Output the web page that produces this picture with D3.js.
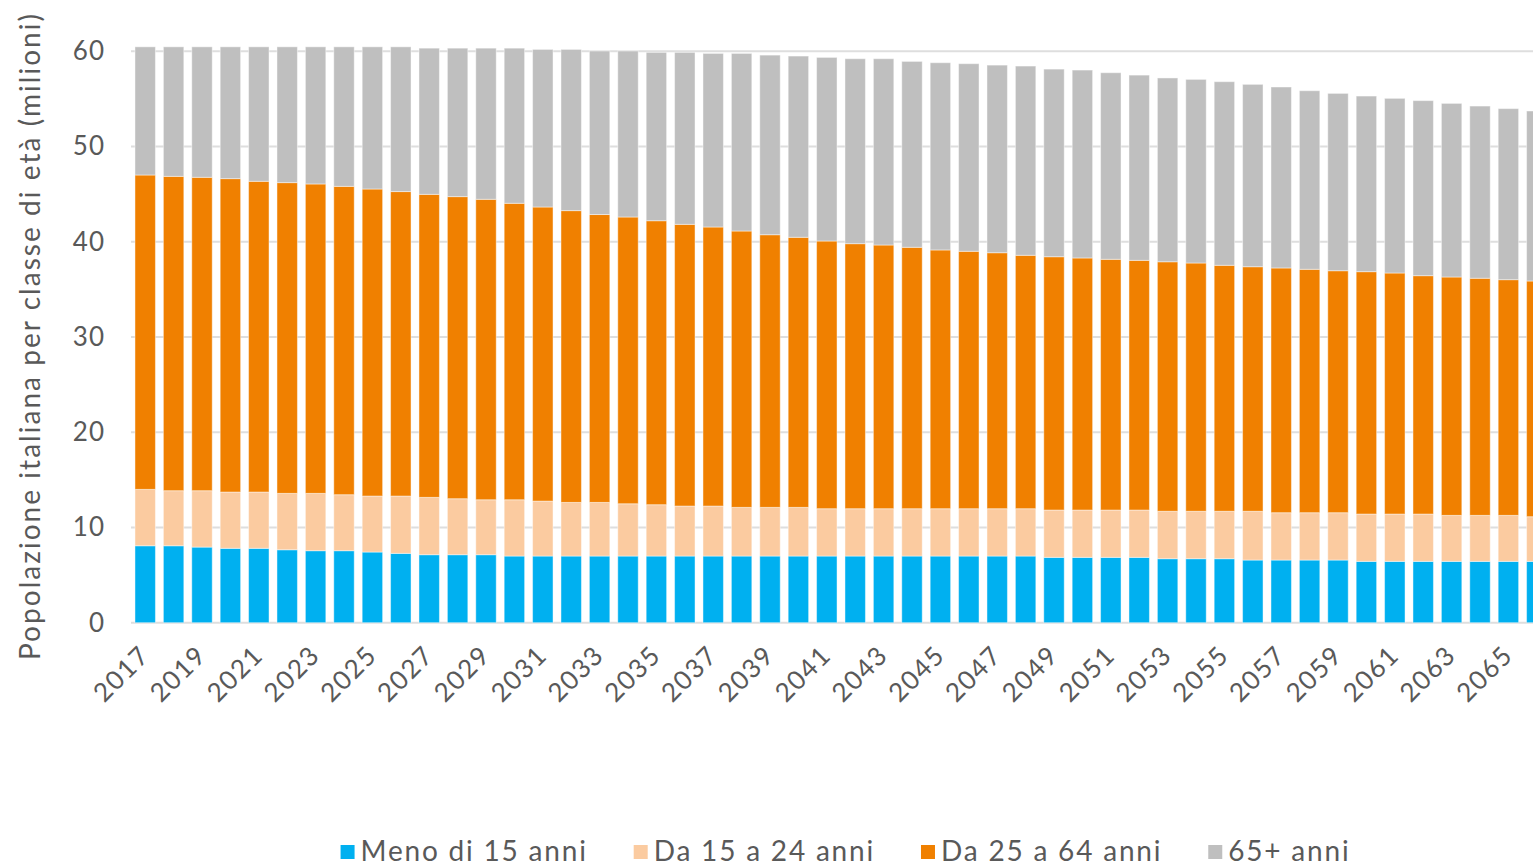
<!DOCTYPE html>
<meta charset="utf-8">
<style>
    body {
        margin: 0;
        background: #fff;
        overflow: hidden;
    }

    svg text {
        font-family: Lato, "Open Sans", sans-serif;
        fill: #595959;
    }

    .grid line {
        stroke: #dedede;
        stroke-width: 2px;
    }

    .bars rect {
        stroke: #fff;
        stroke-opacity: 0.45;
        stroke-width: 1px;
    }
</style>

<body>
<script src="https://cdn.jsdelivr.net/npm/d3@7"></script>
<script>

    // Years on the x axis (the last one is cut by the right edge)
    var years = d3.range(2017, 2067);

    // Population by age class, millions
    var meno15 = [8.08, 8.08, 7.94, 7.81, 7.81, 7.66, 7.56, 7.56, 7.42, 7.28,
                  7.14, 7.14, 7.14, 7.00, 7.00, 7.00, 7.00, 7.00, 7.00, 7.00,
                  7.00, 7.00, 7.00, 7.00, 7.00, 7.00, 7.00, 7.00, 7.00, 7.00,
                  7.00, 7.00, 6.86, 6.86, 6.86, 6.86, 6.72, 6.72, 6.72, 6.58,
                  6.58, 6.58, 6.58, 6.44, 6.44, 6.44, 6.44, 6.44, 6.44, 6.44];

    var da15a24 = [5.92, 5.78, 5.92, 5.91, 5.91, 5.92, 6.02, 5.88, 5.88, 6.02,
                   6.02, 5.88, 5.77, 5.91, 5.77, 5.63, 5.63, 5.49, 5.39, 5.25,
                   5.25, 5.11, 5.11, 5.11, 4.97, 4.97, 4.97, 4.97, 4.97, 4.97,
                   4.97, 4.97, 4.97, 4.97, 4.97, 4.97, 4.98, 4.98, 4.98, 5.12,
                   4.97, 4.97, 4.97, 4.97, 4.97, 4.97, 4.83, 4.83, 4.83, 4.69];

    var da25a64 = [33.01, 33.01, 32.91, 32.91, 32.63, 32.63, 32.49, 32.38, 32.24, 31.97,
                   31.82, 31.72, 31.55, 31.13, 30.88, 30.64, 30.23, 30.11, 29.82, 29.58,
                   29.30, 29.02, 28.63, 28.36, 28.11, 27.83, 27.69, 27.45, 27.17, 27.03,
                   26.88, 26.61, 26.60, 26.47, 26.33, 26.22, 26.20, 26.07, 25.83, 25.68,
                   25.70, 25.56, 25.41, 25.45, 25.31, 25.03, 25.03, 24.90, 24.75, 24.75];

    var over65 = [13.46, 13.60, 13.70, 13.84, 14.12, 14.26, 14.40, 14.65, 14.93, 15.20,
                  15.35, 15.59, 15.87, 16.29, 16.55, 16.93, 17.17, 17.43, 17.68, 18.06,
                  18.23, 18.65, 18.86, 19.03, 19.28, 19.42, 19.56, 19.52, 19.66, 19.70,
                  19.70, 19.87, 19.70, 19.73, 19.59, 19.45, 19.30, 19.28, 19.28, 19.15,
                  19.00, 18.75, 18.62, 18.44, 18.34, 18.38, 18.23, 18.08, 17.96, 17.85];

    var seriesNames = ["Meno di 15 anni", "Da 15 a 24 anni", "Da 25 a 64 anni", "65+ anni"];
    var seriesColors = ["#00b0f0", "#fbcba0", "#f08000", "#bfbfbf"];
    var yTicks = [0, 10, 20, 30, 40, 50, 60];
    var yTitle = "Popolazione italiana per classe di età (milioni)";

    var width = 1533, height = 866;
    var plot = { left: 131, top: 51.3, bottom: 622.7 };
    var step = 28.4;

    var svg = d3.select("body").append("svg")
        .attr("width", width).attr("height", height);

    // one row per year, keyed by series name
    var rows = years.map(function(y, i) {
        var r = { year: y };
        r[seriesNames[0]] = meno15[i];
        r[seriesNames[1]] = da15a24[i];
        r[seriesNames[2]] = da25a64[i];
        r[seriesNames[3]] = over65[i];
        return r;
    });

    var stacked = d3.stack().keys(seriesNames)(rows);

    var x = d3.scaleBand()
        .domain(years)
        .range([plot.left, plot.left + step * years.length])
        .paddingInner(0.28)
        .paddingOuter(0.14);

    var y = d3.scaleLinear()
        .domain([0, 60])
        .range([plot.bottom, plot.top]);

    var color = d3.scaleOrdinal().domain(seriesNames).range(seriesColors);

    // gridlines
    svg.append("g")
        .attr("class", "grid")
        .selectAll("line")
        .data(yTicks)
        .enter().append("line")
        .attr("x1", plot.left).attr("x2", width + 20)
        .attr("y1", function(d) { return y(d); })
        .attr("y2", function(d) { return y(d); });

    // stacked bars
    svg.append("g")
        .attr("class", "bars")
        .selectAll("g")
        .data(stacked)
        .enter().append("g")
        .attr("fill", function(d) { return color(d.key); })
        .selectAll("rect")
        .data(function(d) { return d; })
        .enter().append("rect")
        .attr("x", function(d) { return x(d.data.year); })
        .attr("width", x.bandwidth())
        .attr("y", function(d) { return y(d[1]); })
        .attr("height", function(d) { return y(d[0]) - y(d[1]); });

    // y axis labels
    var yAxis = svg.append("g")
        .attr("transform", "translate(" + (plot.left - 26) + ",0)")
        .call(d3.axisLeft(y).tickValues(yTicks).tickSize(0).tickPadding(0));
    yAxis.select(".domain").remove();
    yAxis.selectAll("text")
        .attr("font-size", 26)
        .attr("letter-spacing", 1)
        .attr("font-family", null)
        .attr("fill", null);

    // x axis labels, every second year, slanted
    svg.append("g")
        .selectAll("text")
        .data(years.filter(function(d) { return (d - 2017) % 2 === 0; }))
        .enter().append("text")
        .attr("font-size", 26)
        .attr("letter-spacing", 1.5)
        .attr("text-anchor", "end")
        .attr("transform", function(d) {
            return "translate(" + (x(d) + x.bandwidth() / 2 + 6) + "," + (plot.bottom + 34) + ") rotate(-45)";
        })
        .text(function(d) { return d; });

    // y axis title, spaced out to the length of the plot
    var title = svg.append("text")
        .attr("font-size", 28)
        .attr("text-anchor", "middle")
        .attr("transform", "translate(40," + ((plot.top + plot.bottom) / 2 - 1) + ") rotate(-90)")
        .text(yTitle);
    var tl = title.node().getComputedTextLength();
    title.attr("letter-spacing", Math.max(0, (646 - tl) / (yTitle.length - 1)));

    // legend at the bottom
    var legend = svg.append("g").attr("class", "legend");
    var item = legend.selectAll("g")
        .data(seriesNames)
        .enter().append("g");

    item.append("rect")
        .attr("width", 14).attr("height", 14)
        .attr("y", 845)
        .attr("fill", function(d) { return color(d); });

    item.append("text")
        .attr("font-size", 28)
        .attr("letter-spacing", 1.8)
        .attr("x", 20)
        .attr("y", 861)
        .text(function(d) { return d; });

    // lay the items out side by side and centre them
    var pos = 0, gap = 46, offsets = [];
    item.each(function() {
        offsets.push(pos);
        pos += 20 + d3.select(this).select("text").node().getComputedTextLength() + gap;
    });
    var total = pos - gap;
    var startX = 845.5 - total / 2;
    item.attr("transform", function(d, i) { return "translate(" + (startX + offsets[i]) + ",0)"; });

</script>
</body>
